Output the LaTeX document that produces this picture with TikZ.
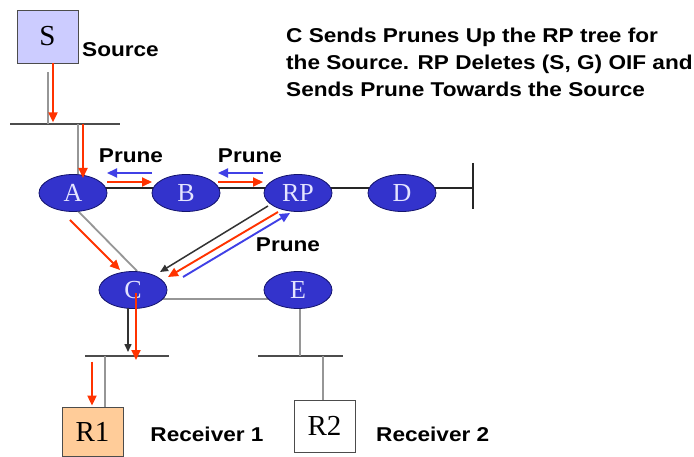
\documentclass[tikz,border=0pt]{standalone}
\usepackage{fontspec}
\usetikzlibrary{arrows.meta,backgrounds,calc,shapes.geometric}
\newfontfamily\lblfont[FakeStretch=1.13]{Liberation Sans}
\newfontfamily\serfont{Liberation Serif}
\definecolor{nodeblue}{RGB}{51,51,204}
\definecolor{nodeedge}{RGB}{20,20,110}
\definecolor{redarrow}{RGB}{255,51,0}
\definecolor{bluearrow}{RGB}{64,64,230}
\definecolor{srcfill}{RGB}{204,204,255}
\definecolor{rcvfill}{RGB}{255,204,153}
\definecolor{linegray}{RGB}{150,150,150}
\definecolor{lblwhite}{RGB}{228,228,255}
\begin{document}
\begin{tikzpicture}[x=1pt,y=-1pt,
  router/.style={ellipse, fill=nodeblue, draw=nodeedge, line width=0.8pt,
    minimum width=68pt, minimum height=37pt, inner sep=0pt, text=lblwhite,
    font=\serfont\fontsize{26}{26}\selectfont},
  hostbox/.style={rectangle, draw=black!70, line width=0.8pt, inner sep=0pt,
    font=\serfont\fontsize{29}{29}\selectfont},
  lbl/.style={font=\lblfont\bfseries\fontsize{20}{27}\selectfont, inner sep=0pt},
  redarr/.style={draw=redarrow, line width=1.9pt, -{Triangle[length=10pt,width=9pt]}},
  bluearr/.style={draw=bluearrow, line width=1.9pt, -{Triangle[length=10pt,width=9pt]}},
  blackarr/.style={draw=black!80, line width=1.5pt, -{Triangle[length=8pt,width=7pt]}},
  grayline/.style={draw=linegray, line width=1.8pt},
  blackline/.style={draw=black!85, line width=1.5pt},
  lanbar/.style={draw=black!70, line width=2.2pt}]
\useasboundingbox (0,0) rectangle (694,457);

% hosts
\node[hostbox, fill=srcfill, minimum width=61pt, minimum height=53pt] (S) at (47.5,36.5) {S};
\node[hostbox, fill=rcvfill, minimum width=61pt, minimum height=49pt] (R1) at (92.5,431.5) {R1};
\node[hostbox, fill=white, minimum width=61pt, minimum height=52pt] (R2) at (324.5,426) {R2};

% routers
\node[router] (A) at (73,193) {A};
\node[router] (B) at (186,193) {B};
\node[router] (RP) at (298,193) {RP};
\node[router] (D) at (402,193) {D};
\node[router] (C) at (133,290) {C};
\node[router] (E) at (298,290) {E};

% LAN bars and fixed points
\coordinate (b1w) at (10,124);  \coordinate (b1e) at (120,124);
\coordinate (b2w) at (85,356);  \coordinate (b2e) at (169,356);
\coordinate (b3w) at (258,356); \coordinate (b3e) at (343,356);
\coordinate (endtop) at (473,163); \coordinate (endbot) at (473,209);
\coordinate (endmid) at (473,188);

% connectors behind routers
\begin{scope}[on background layer]
  \fill[white] (0,0) rectangle (694,457);
  \draw[lanbar] (b1w) -- (b1e);
  \draw[lanbar] (b2w) -- (b2e);
  \draw[lanbar] (b3w) -- (b3e);
  \draw[blackline] (endtop) -- (endbot);
  \draw[grayline] ($(S.south)+(0.5,9)$) -- ($(S.south)+(0.5,61)$);
  \draw[grayline] ($(A.center)+(5,-69)$) -- ($(A.center)+(5,-15)$);
  \draw[blackline] ($(A.center)+(0,-5)$) -- ($(B.center)+(0,-5)$);
  \draw[blackline] ($(B.center)+(0,-5)$) -- ($(RP.center)+(0,-5)$);
  \draw[blackline] ($(RP.center)+(0,-5)$) -- ($(D.center)+(0,-5)$) -- (endmid);
  \draw[grayline] ($(A.center)+(5,18)$) -- ($(C.center)+(4,-19)$);
  \draw[grayline] ($(C.center)+(0,9)$) -- ($(E.center)+(0,9)$);
  \draw[grayline] ($(E.center)+(2,0)$) -- ($(E.center)+(2,66)$);
  \draw[grayline] ($(R1.north)+(12.5,-51)$) -- ($(R1.north)+(12.5,0)$);
  \draw[grayline] ($(R2.north)+(-1.5,-44)$) -- ($(R2.north)+(-1.5,0)$);
\end{scope}

% flow arrows
\draw[redarr] ($(S.south)+(5.5,0)$) -- ($(S.south)+(5.5,59)$);
\draw[redarr] ($(A.center)+(10,-69)$) -- ($(A.center)+(10,-15)$);
\draw[redarr] ($(A.center)+(34,-11)$) -- ($(B.center)+(-34,-11)$);
\draw[bluearr] ($(B.center)+(-34,-20)$) -- ($(A.center)+(34,-20)$);
\draw[redarr] ($(B.center)+(32,-11)$) -- ($(RP.center)+(-35,-11)$);
\draw[bluearr] ($(RP.center)+(-35,-20)$) -- ($(B.center)+(32,-20)$);
\draw[redarr] ($(A.center)+(-3,27)$) -- ($(C.center)+(-13,-20)$);
\draw[blackarr] ($(RP.center)+(-30,13)$) -- ($(C.center)+(27,-18)$);
\draw[redarr] ($(RP.center)+(-20,19)$) -- ($(C.center)+(35,-13)$);
\draw[bluearr] ($(C.center)+(50,-13)$) -- ($(RP.center)+(-8,20)$);
\draw[blackarr] ($(C.center)+(-5,18)$) -- ($(C.center)+(-5,62)$);
\draw[redarr] ($(C.center)+(3,3)$) -- ($(C.center)+(3,70)$);
\draw[redarr] ($(R1.north)+(-0.5,-45)$) -- ($(R1.north)+(-0.5,-1)$);

% labels
\node[lbl, anchor=west] (srclbl) at (82,50) {Source};
\node[lbl] (p1) at (131,156) {Prune};
\node[lbl] (p2) at (250,156) {Prune};
\node[lbl] (p3) at (288,245) {Prune};
\node[lbl] (rc1) at (207,434) {Receiver 1};
\node[lbl, anchor=west] (rc2) at (376,434) {Receiver 2};
\node[lbl, anchor=west, align=left] (title) at (286,62)
  {C Sends Prunes Up the RP tree for\\the Source. RP Deletes (S, G) OIF and\\Sends Prune Towards the Source};
\end{tikzpicture}
\end{document}
